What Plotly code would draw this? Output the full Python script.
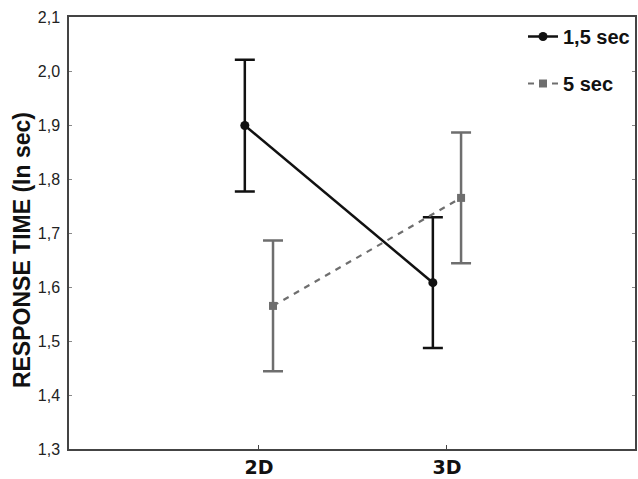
import plotly.graph_objects as go

categories = ["2D", "3D"]
series_names = ["1,5 sec", "5 sec"]
means_15 = [1.899, 1.608]
err_15 = [0.122, 0.121]
means_5 = [1.565, 1.765]
err_5 = [0.121, 0.121]
y_ticks = [1.3, 1.4, 1.5, 1.6, 1.7, 1.8, 1.9, 2.0, 2.1]
y_title = "RESPONSE TIME (In sec)"

dodge = 0.075
xpos = list(range(len(categories)))
ARIAL = "Liberation Sans, Arial, Helvetica, sans-serif"
WIDE = "DejaVu Sans, Liberation Sans, Arial, sans-serif"

fig = go.Figure()
fig.add_trace(go.Scatter(
    x=[i - dodge for i in xpos], y=means_15, name=series_names[0],
    mode="lines+markers",
    line=dict(color="#111111", width=2.5),
    marker=dict(symbol="circle", size=9, color="#111111"),
    error_y=dict(type="data", array=err_15, visible=True, color="#111111", thickness=2.5, width=10),
    legendgroup="a",
))
fig.add_trace(go.Scatter(
    x=[i + dodge for i in xpos], y=means_5, name=series_names[1],
    mode="lines+markers",
    line=dict(color="#6e6e6e", width=2.2, dash="6px,6px"),
    marker=dict(symbol="square", size=8, color="#6e6e6e"),
    error_y=dict(type="data", array=err_5, visible=True, color="#6e6e6e", thickness=2.5, width=10),
    legendgroup="b",
))

fig.update_layout(
    width=638, height=479,
    margin=dict(l=69, r=1, t=17, b=28),
    paper_bgcolor="white", plot_bgcolor="white",
    separators=",.",
    font=dict(family=ARIAL, color="#222222"),
    legend=dict(
        x=1.0, y=1.0, xanchor="right", yanchor="top",
        font=dict(size=20, color="#111111", family=ARIAL, weight="bold"),
        bgcolor="rgba(0,0,0,0)", tracegroupgap=18,
    ),
    showlegend=True,
)
fig.update_xaxes(
    range=[-1.01, 2.0], tickvals=xpos, ticktext=categories,
    showline=True, linecolor="#444444", linewidth=1.5, mirror=True,
    ticks="inside", ticklen=4, tickcolor="#444444",
    showgrid=False, zeroline=False,
    tickfont=dict(size=19, color="#111111", family=WIDE, weight="bold"),
)
fig.update_yaxes(
    range=[1.3, 2.1], tickvals=y_ticks, tickformat=".1f",
    showline=True, linecolor="#444444", linewidth=1.5, mirror="allticks",
    ticks="inside", ticklen=3, tickcolor="#888888",
    showgrid=False, zeroline=False,
    tickfont=dict(size=16, color="#222222", family=ARIAL),
    ticklabelstandoff=4,
)
fig.add_annotation(
    text=y_title, textangle=-90,
    xref="paper", yref="paper", x=-0.0826, y=0.461,
    xanchor="center", yanchor="middle", showarrow=False,
    font=dict(size=23, color="#111111", family=ARIAL, weight="bold"),
)

fig.write_html("out.html")
